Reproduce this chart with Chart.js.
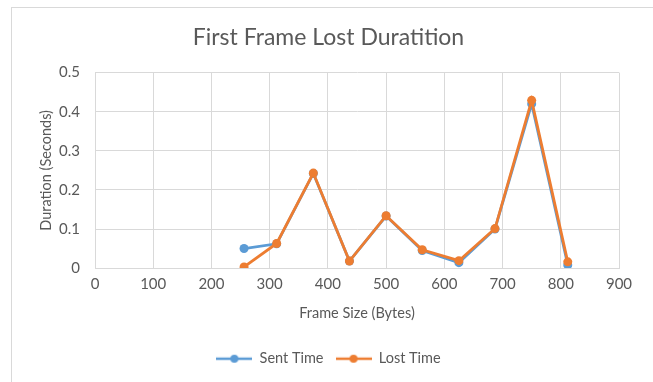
<!DOCTYPE html>
<html>
<head>
<meta charset="utf-8">
<script src="https://cdn.jsdelivr.net/npm/chart.js@4/dist/chart.umd.min.js"></script>
<style>
    html, body { margin: 0; padding: 0; background: #fff; }
    #wrap { position: relative; width: 653px; height: 382px; }
    #frame {
        position: absolute; left: 11px; top: 7px; width: 642px; height: 375px;
        border-top: 1px solid #d9d9d9; border-left: 1px solid #d9d9d9;
        pointer-events: none;
    }
</style>
</head>
<body>
<div id="wrap">
    <canvas id="chart" width="653" height="382"></canvas>
    <div id="frame"></div>
</div>
<script>
// ===== DATA =====
const frameSizes = [256, 312, 375, 437, 500, 562, 625, 687, 750, 812];
const sentTime = [0.050, 0.062, 0.242, 0.018, 0.133, 0.045, 0.014, 0.100, 0.420, 0.008];
const lostTime = [0.003, 0.063, 0.243, 0.018, 0.134, 0.047, 0.019, 0.101, 0.429, 0.016];
const xTicks = [0, 100, 200, 300, 400, 500, 600, 700, 800, 900];
const yTicks = [0, 0.1, 0.2, 0.3, 0.4, 0.5];

const BLUE = '#5B9BD5';
const ORANGE = '#ED7D31';
const TEXT = '#595959';
const GRID = '#d9d9d9';
const FONT = 'Lato';

function toPoints(xs, ys) {
    return xs.map((x, i) => ({ x: x, y: ys[i] }));
}

// legend marker: a short line with a dot in the middle
function legendMarker(color) {
    const c = document.createElement('canvas');
    c.width = 36;
    c.height = 10;
    const g = c.getContext('2d');
    g.strokeStyle = color;
    g.lineWidth = 2.5;
    g.beginPath();
    g.moveTo(0, 5);
    g.lineTo(36, 5);
    g.stroke();
    g.fillStyle = color;
    g.beginPath();
    g.arc(18, 5, 4, 0, Math.PI * 2);
    g.fill();
    return c;
}

const ctx = document.getElementById('chart');
const chart = new Chart(ctx, {
    type: 'scatter',
    data: {
        datasets: [{
            label: 'Sent Time',
            data: toPoints(frameSizes, sentTime),
            showLine: true,
            order: 1,
            borderColor: BLUE,
            backgroundColor: BLUE,
            borderWidth: 2.75,
            pointRadius: 4.5,
            pointBorderWidth: 0,
            pointStyle: 'circle',
        }, {
            label: 'Lost Time',
            data: toPoints(frameSizes, lostTime),
            showLine: true,
            order: 0,
            borderColor: ORANGE,
            backgroundColor: ORANGE,
            borderWidth: 2.75,
            pointRadius: 4.5,
            pointBorderWidth: 0,
            pointStyle: 'circle',
        }]
    },
    options: {
        responsive: false,
        animation: false,
        layout: {
            padding: { left: 38, right: 34, top: 0, bottom: 6 }
        },
        plugins: {
            title: {
                display: true,
                text: 'First Frame Lost Duratition',
                color: TEXT,
                font: { family: FONT, size: 23, weight: 'normal' },
                padding: { top: 24, bottom: 21 }
            },
            legend: {
                position: 'bottom',
                labels: {
                    color: TEXT,
                    font: { family: FONT, size: 14.5 },
                    usePointStyle: true,
                    pointStyleWidth: 36,
                    boxHeight: 10,
                    padding: 12,
                    generateLabels: function(ch) {
                        return ch.data.datasets.map((ds, i) => ({
                            text: ds.label,
                            fontColor: TEXT,
                            pointStyle: legendMarker(ds.borderColor),
                            lineWidth: 0,
                            strokeStyle: 'transparent',
                            fillStyle: ds.borderColor,
                            datasetIndex: i,
                            hidden: false
                        }));
                    }
                }
            },
            tooltip: { enabled: false }
        },
        scales: {
            x: {
                type: 'linear',
                min: 0,
                max: 900,
                afterBuildTicks: function(scale) {
                    scale.ticks = xTicks.map(v => ({ value: v }));
                },
                grid: { color: GRID, drawTicks: false },
                border: { color: GRID },
                ticks: {
                    color: TEXT,
                    font: { family: FONT, size: 15 },
                    padding: 7,
                    maxRotation: 0
                },
                title: {
                    display: true,
                    text: 'Frame Size (Bytes)',
                    color: TEXT,
                    font: { family: FONT, size: 14.5 },
                    padding: { top: 5, bottom: 17 }
                }
            },
            y: {
                type: 'linear',
                min: 0,
                max: 0.5,
                afterBuildTicks: function(scale) {
                    scale.ticks = yTicks.map(v => ({ value: v }));
                },
                afterFit: function(scale) {
                    scale.width = 57;
                },
                grid: { color: GRID, drawTicks: false },
                border: { color: GRID },
                ticks: {
                    color: TEXT,
                    font: { family: FONT, size: 15 },
                    padding: 15,
                    callback: v => String(Math.round(v * 10) / 10)
                },
                title: {
                    display: true,
                    text: 'Duration (Seconds)',
                    color: TEXT,
                    font: { family: FONT, size: 14.5 },
                    padding: { top: 0, bottom: 0 }
                }
            }
        }
    }
});
</script>
</body>
</html>
